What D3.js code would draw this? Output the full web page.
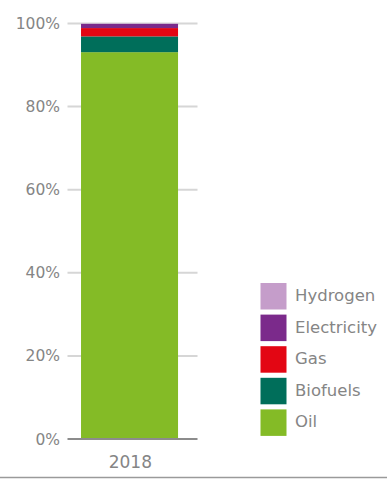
<!DOCTYPE html>
<html><head><meta charset="utf-8">
<script src="https://cdn.jsdelivr.net/npm/d3@7/dist/d3.min.js"></script>
<style>body{margin:0;background:#fff}svg{display:block}text{font-family:"DejaVu Sans",sans-serif}</style>
</head><body><svg id="c" width="387" height="479"></svg>
<script>
const categories = ["2018"];
const seriesNames = ["Oil","Biofuels","Gas","Electricity","Hydrogen"];
const oil = [93.1];
const biofuels = [3.8];
const gas = [2.0];
const electricity = [1.0];
const hydrogen = [0.1];
const yTicks = [0,20,40,60,80,100];
const colors = {Oil:"#84bb26",Biofuels:"#006e5a",Gas:"#e30613",Electricity:"#7b2a8b",Hydrogen:"#c59dca"};

const rows = categories.map((c,i)=>({cat:c,Oil:oil[i],Biofuels:biofuels[i],Gas:gas[i],Electricity:electricity[i],Hydrogen:hydrogen[i]}));
const svg = d3.select("#c");
const y = d3.scaleLinear().domain([0,100]).range([439,23.5]);
const x = d3.scaleBand().domain(categories).range([67.5,197.5]).paddingInner(0).paddingOuter(0.17).align(0.41);

// gridlines
svg.append("g").selectAll("line").data(yTicks.filter(t=>t>0)).join("line")
  .attr("x1",67.5).attr("x2",197.5).attr("y1",d=>y(d)).attr("y2",d=>y(d))
  .attr("stroke","#d6d6d6").attr("stroke-width",2);

const stack = d3.stack().keys(seriesNames)(rows);
svg.append("g").selectAll("g").data(stack).join("g").attr("fill",d=>colors[d.key])
  .selectAll("rect").data(d=>d).join("rect")
  .attr("x",d=>x(d.data.cat)).attr("width",x.bandwidth())
  .attr("y",d=>y(d[1])).attr("height",d=>y(d[0])-y(d[1]));

// baseline
svg.append("line").attr("x1",67.5).attr("x2",197.5).attr("y1",y(0)).attr("y2",y(0))
  .attr("stroke","#8c8c8c").attr("stroke-width",2);

// y tick labels
svg.append("g").selectAll("text").data(yTicks).join("text")
  .attr("x",60).attr("y",d=>y(d)+5.5).attr("text-anchor","end")
  .attr("font-size",15.5).attr("fill","#858585").text(d=>d+"%");

// x label
svg.append("g").selectAll("text").data(categories).join("text")
  .attr("x",d=>x(d)+x.bandwidth()/2+0.8).attr("y",468.3).attr("text-anchor","middle")
  .attr("font-size",17).attr("fill","#858585").text(d=>d);

// bottom rule
svg.append("line").attr("x1",0).attr("x2",387).attr("y1",477.5).attr("y2",477.5)
  .attr("stroke","#9a9a9a").attr("stroke-width",1.5);

// legend
const legendOrder = seriesNames.slice().reverse();
const lg = svg.append("g").selectAll("g").data(legendOrder).join("g")
  .attr("transform",(d,i)=>`translate(260.5,${283+i*31.6})`);
lg.append("rect").attr("width",26).attr("height",26.5).attr("fill",d=>colors[d]);
lg.append("text").attr("x",34.5).attr("y",18)
  .attr("font-size",16.5).attr("fill","#858585").text(d=>d);
</script></body></html>
